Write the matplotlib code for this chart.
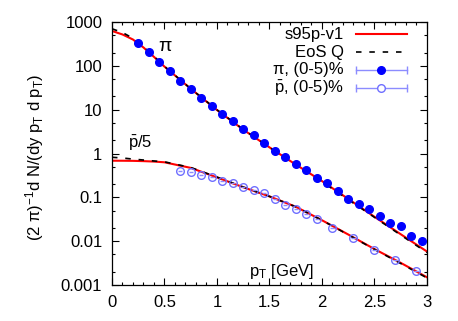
import matplotlib
matplotlib.use('Agg')
import matplotlib.pyplot as plt
from matplotlib.ticker import LogLocator, MultipleLocator, NullFormatter

plt.rcParams['font.family'] = ['Liberation Sans', 'DejaVu Sans']
plt.rcParams['mathtext.fontset'] = 'custom'
plt.rcParams['mathtext.rm'] = 'Liberation Sans'
plt.rcParams['mathtext.it'] = 'Liberation Sans:italic'
plt.rcParams['mathtext.sf'] = 'Liberation Sans'

# ---- data ----
curve_pt = [0, 0.1, 0.2, 0.3, 0.4, 0.5, 0.75, 1.0, 1.25, 1.5, 1.75, 2.0, 2.25, 2.5, 2.75, 3.0]
pi_s95p = [624, 519, 398, 262, 160, 96, 30, 9.8, 3.5, 1.38, 0.56, 0.235, 0.092, 0.036, 0.0144, 0.0058]
pi_eosq = [700, 575, 425, 272, 164, 97, 30, 9.9, 3.55, 1.38, 0.55, 0.228, 0.089, 0.035, 0.0138, 0.0055]
pbar_s95p = [0.685, 0.684, 0.68, 0.67, 0.655, 0.63, 0.47, 0.285, 0.17, 0.105, 0.061, 0.030, 0.0142, 0.0066, 0.0032, 0.0015]
pbar_eosq = [0.82, 0.79, 0.745, 0.71, 0.675, 0.645, 0.48, 0.29, 0.172, 0.105, 0.061, 0.030, 0.014, 0.0065, 0.0031, 0.00145]

pi_pt = [0.25, 0.35, 0.45, 0.55, 0.65, 0.75, 0.85, 0.95, 1.05, 1.15, 1.25, 1.35, 1.45, 1.55,
         1.65, 1.75, 1.85, 1.95, 2.05, 2.15, 2.25, 2.35, 2.45, 2.55, 2.65, 2.75, 2.85, 2.95]
pi_vals = [337, 203, 122, 75, 45.8, 30, 18.5, 12.1, 7.96, 5.42, 3.56, 2.60, 1.73, 1.16,
           0.818, 0.575, 0.42, 0.281, 0.209, 0.139, 0.0917, 0.0705, 0.0542, 0.0375, 0.0264, 0.0225, 0.0129, 0.0102]
pi_xerr = [0.02] * len(pi_pt)

pbar_pt = [0.65, 0.75, 0.85, 0.95, 1.05, 1.15, 1.25, 1.35, 1.45, 1.55, 1.65, 1.75, 1.85, 1.95,
           2.1, 2.3, 2.5, 2.7, 2.9]
pbar_vals = [0.398, 0.372, 0.323, 0.286, 0.239, 0.216, 0.175, 0.145, 0.123, 0.090, 0.068, 0.055, 0.042, 0.0315,
             0.0196, 0.0120, 0.0063, 0.0037, 0.0021]
pbar_xerr = [0.02] * len(pbar_pt)

xticks = [0, 0.5, 1, 1.5, 2, 2.5, 3]
xticklabels = ['0', '0.5', '1', '1.5', '2', '2.5', '3']
yticks = [0.001, 0.01, 0.1, 1, 10, 100, 1000]
yticklabels = ['0.001', '0.01', '0.1', '1', '10', '100', '1000']

RED = '#ff0000'
BLUE = '#0000ff'
LBLUE = '#8c8cff'
OBLUE = '#6f6fff'
dash = (0, (3.3, 4.7))

fig = plt.figure(figsize=(4.58, 3.21), dpi=100)
ax = fig.add_axes([0.2445, 0.1121, 0.6878, 0.8194])

ax.plot(curve_pt, pi_s95p, color=RED, lw=1.5, zorder=2)
ax.plot(curve_pt, pbar_s95p, color=RED, lw=1.5, zorder=2)
ax.plot(curve_pt, pi_eosq, color='black', lw=1.2, ls=dash, zorder=3)
ax.plot(curve_pt, pbar_eosq, color='black', lw=1.2, ls=dash, zorder=3)

ax.errorbar(pi_pt, pi_vals, xerr=pi_xerr, fmt='o', color=BLUE, ms=5.5, mec=BLUE,
            ecolor=LBLUE, elinewidth=1, capsize=0, zorder=4)
ax.errorbar(pbar_pt, pbar_vals, xerr=pbar_xerr, fmt='o', mfc='none', mec=OBLUE, ms=5.5, mew=1,
            ecolor=LBLUE, elinewidth=1, capsize=0, zorder=4)

ax.set_yscale('log')
ax.set_xlim(0, 3)
ax.set_ylim(0.001, 1000)
ax.set_xticks(xticks)
ax.set_xticklabels(xticklabels)
ax.set_yticks(yticks)
ax.set_yticklabels(yticklabels)
ax.xaxis.set_minor_locator(MultipleLocator(0.1))
ax.yaxis.set_minor_locator(LogLocator(base=10, subs=(2, 5)))
ax.yaxis.set_minor_formatter(NullFormatter())
ax.tick_params(which='both', direction='in', top=True, right=True, labelsize=12, width=0.8)
ax.tick_params(which='major', length=5, pad=7)
ax.tick_params(which='minor', length=2.5)
for s in ax.spines.values():
    s.set_linewidth(0.9)

# legend (gnuplot-like, text right-aligned)
tx, lx0, lx1, lxm = 0.7365, 0.7746, 0.9365, 0.8555
rows = [0.954, 0.885, 0.8175, 0.748]
kw = dict(transform=ax.transAxes, clip_on=False)
ax.text(tx, rows[0], 's95p-v1', ha='right', va='center', fontsize=12, transform=ax.transAxes)
ax.plot([lx0, lx1], [rows[0]] * 2, color=RED, lw=1.5, **kw)
ax.text(tx, rows[1], 'EoS Q', ha='right', va='center', fontsize=12, transform=ax.transAxes)
ax.plot([lx0, lx1], [rows[1]] * 2, color='black', lw=1.2, ls=dash, **kw)
ax.text(tx, rows[2], 'π, (0-5)%', ha='right', va='center', fontsize=12, transform=ax.transAxes)
ax.plot([lx0, lx1], [rows[2]] * 2, color=LBLUE, lw=1, marker='|', markevery=[0, 1], ms=6, **kw)
ax.plot([lxm], [rows[2]], 'o', color=BLUE, ms=5.5, **kw)
ax.text(tx, rows[3], r'$\bar{\mathrm{p}}$, (0-5)%', ha='right', va='center', fontsize=12, transform=ax.transAxes)
ax.plot([lx0, lx1], [rows[3]] * 2, color=LBLUE, lw=1, marker='|', markevery=[0, 1], ms=6, **kw)
ax.plot([lxm], [rows[3]], 'o', mfc='white', mec=OBLUE, mew=1, ms=5.5, **kw)

# annotations
ax.text(0.168, 0.906, 'π', ha='center', va='center', fontsize=14, transform=ax.transAxes)
ax.text(0.051, 0.54, r'$\bar{\mathrm{p}}$/5', ha='left', va='center', fontsize=12, transform=ax.transAxes)
ax.text(0.435, 0.053, r'p$_{\mathrm{T}}$ [GeV]', ha='left', va='center', fontsize=12, transform=ax.transAxes)

fig.text(0.076, 0.511, r'(2 π)$^{-1}$d N/(dy p$_{\mathrm{T}}$ d p$_{\mathrm{T}}$)', rotation=90,
         ha='center', va='center', fontsize=12)

fig.savefig('out.png', dpi=100)
